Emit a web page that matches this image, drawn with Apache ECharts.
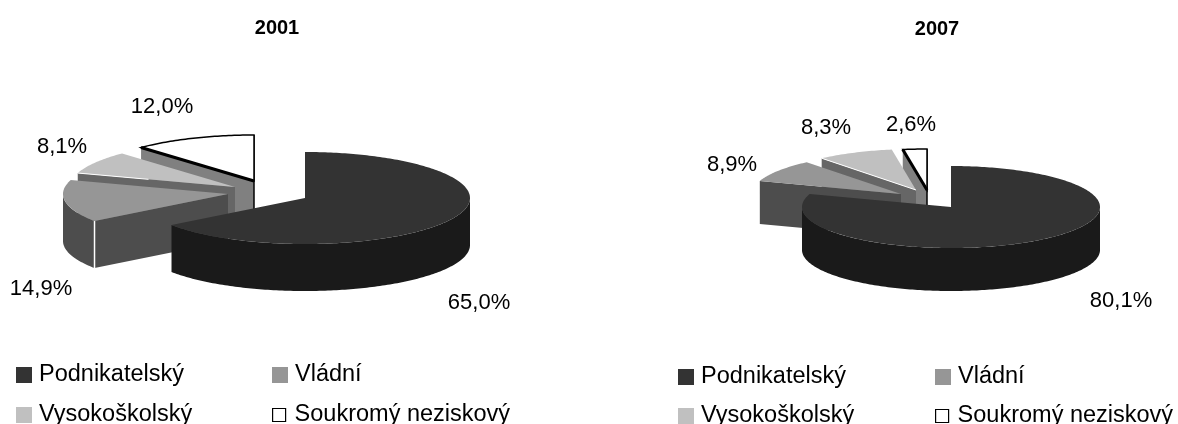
<!DOCTYPE html>
<html>
<head>
<meta charset="utf-8">
<style>
html,body{margin:0;padding:0;background:#fff}
#main{width:1178px;height:424px}
</style>
<script src="https://cdn.jsdelivr.net/npm/echarts@6/dist/echarts.min.js"></script>
</head>
<body>
<div id="main"></div>
<script>
var categories = ['Podnikatelský', 'Vládní', 'Vysokoškolský', 'Soukromý neziskový'];
var values2001 = [65.0, 14.9, 8.1, 12.0];
var values2007 = [80.1, 8.9, 8.3, 2.6];
var years = ['2001', '2007'];

var topColors = ['#333333', '#969696', '#c0c0c0', '#ffffff'];
var sideColors = ['#1a1a1a', '#4d4d4d', '#666666', '#808080'];
var FONT = '"Liberation Sans", Arial, sans-serif';

// geometry of each pie: apex of every slice (exploded), radii, depth, label centres
var pies = [
    {
        values: values2001, rx: 165, ry: 46, depth: 47,
        apex: [[305, 198], [228, 194], [235, 187], [254, 181]],
        labels: [[479, 303], [41, 289], [62, 147], [162, 107]],
        seam: [0, 1, 0, 0],
        highlight: [0, 0, 0.45, 0]
    },
    {
        values: values2007, rx: 149, ry: 41, depth: 43,
        apex: [[951, 207], [901, 194], [916, 190], [927, 190]],
        labels: [[1121, 301], [732, 165], [826, 128], [911, 125]],
        seam: [0, 0, 0, 0],
        highlight: [0, 0, 1, 0]
    }
];

function rimPoint(p, i, deg) {
    var a = deg * Math.PI / 180;
    return [p.apex[i][0] + p.rx * Math.sin(a), p.apex[i][1] - p.ry * Math.cos(a)];
}

function rim(p, i, from, to) {
    var pts = [];
    var n = Math.max(2, Math.ceil(to - from));
    for (var k = 0; k <= n; k++) {
        pts.push(rimPoint(p, i, from + (to - from) * k / n));
    }
    return pts;
}

function down(pts, d) {
    return pts.map(function (q) { return [q[0], q[1] + d]; }).reverse();
}

function sliceSeries(p, i) {
    var total = p.values.reduce(function (s, v) { return s + v; }, 0);
    var before = 0;
    for (var j = 0; j < i; j++) {
        before += p.values[j];
    }
    return {
        type: 'custom',
        name: categories[i],
        coordinateSystem: 'none',
        silent: true,
        itemStyle: { color: topColors[i] },
        data: [[p.values[i], before, total]],
        renderItem: function (params, api) {
            var a0 = api.value(1) / api.value(2) * 360;
            var a1 = (api.value(1) + api.value(0)) / api.value(2) * 360;
            var apex = p.apex[i];
            var children = [];
            var start = rimPoint(p, i, a0);
            var outlined = topColors[i] === '#ffffff';

            // radial face on the start edge (the main slice starts edge-on)
            if (i > 0) {
                var edge = [apex, start];
                children.push({
                    type: 'polygon',
                    shape: { points: edge.concat(down(edge, p.depth)) },
                    style: { fill: sideColors[i] }
                });
            }
            // outer wall, only the part facing the viewer
            var w0 = Math.max(a0, 90), w1 = Math.min(a1, 270);
            if (w1 > w0) {
                var wall = rim(p, i, w0, w1);
                children.push({
                    type: 'polygon',
                    shape: { points: wall.concat(down(wall, p.depth)) },
                    style: { fill: sideColors[i] }
                });
            }
            if (outlined) {
                var end = rimPoint(p, i, a1);
                children.push({
                    type: 'line',
                    shape: { x1: end[0], y1: end[1], x2: end[0], y2: apex[1] + p.depth },
                    style: { stroke: '#000', lineWidth: 1.5 }
                });
            }
            // top face
            children.push({
                type: 'polygon',
                shape: { points: [apex].concat(rim(p, i, a0, a1)) },
                style: {
                    fill: topColors[i],
                    stroke: outlined ? '#000' : null,
                    lineWidth: outlined ? 1.5 : 0
                }
            });
            if (outlined) {
                children.push({
                    type: 'line',
                    shape: { x1: apex[0], y1: apex[1], x2: start[0], y2: start[1] },
                    style: { stroke: '#000', lineWidth: 3 }
                });
            }
            if (p.seam[i]) {
                children.push({
                    type: 'line',
                    shape: { x1: start[0], y1: start[1], x2: start[0], y2: start[1] + p.depth },
                    style: { stroke: '#fff', lineWidth: 1.5 }
                });
            }
            if (p.highlight[i]) {
                var f = p.highlight[i];
                children.push({
                    type: 'line',
                    shape: {
                        x1: start[0], y1: start[1],
                        x2: start[0] + (apex[0] - start[0]) * f,
                        y2: start[1] + (apex[1] - start[1]) * f
                    },
                    style: { stroke: '#fff', lineWidth: 1 }
                });
            }
            return { type: 'group', children: children };
        }
    };
}

function labelSeries(p) {
    return {
        type: 'custom',
        name: 'labels',
        coordinateSystem: 'none',
        silent: true,
        z: 5,
        data: p.values.map(function (v, i) { return [v, i]; }),
        renderItem: function (params, api) {
            var pos = p.labels[api.value(1)];
            return {
                type: 'text',
                style: {
                    text: api.value(0).toFixed(1).replace('.', ',') + '%',
                    x: pos[0], y: pos[1],
                    align: 'center', verticalAlign: 'middle',
                    fill: '#000',
                    font: '22px ' + FONT
                }
            };
        }
    };
}

var series = [];
pies.forEach(function (p) {
    // back to front
    [3, 2, 1, 0].forEach(function (i) { series.push(sliceSeries(p, i)); });
    series.push(labelSeries(p));
});

// one single-item legend per entry, the original has them on a fixed 2x2 layout
var legendSpots = [
    [[16, 363], [272, 363], [16, 403], [272, 403]],
    [[678, 365], [935, 365], [678, 404], [935, 404]]
];
var legends = [];
legendSpots.forEach(function (spots) {
    spots.forEach(function (s, i) {
        var open = topColors[i] === '#ffffff';
        legends.push({
            left: s[0], top: s[1],
            selectedMode: false,
            padding: 0,
            itemWidth: open ? 13 : 16,
            itemHeight: open ? 13 : 16,
            itemStyle: open ? { color: '#fff', borderColor: '#000', borderWidth: 1.2 } : { color: topColors[i], borderWidth: 0 },
            textStyle: { fontFamily: FONT, fontSize: 23.5, color: '#000', padding: [0, 0, 0, open ? 4 : 2] },
            data: [{ name: categories[i], icon: 'rect' }]
        });
    });
});

var myChart = echarts.init(document.getElementById('main'), null, { renderer: 'canvas' });
myChart.setOption({
    animation: false,
    backgroundColor: '#fff',
    title: [
        { text: years[0], left: 277, top: 18, padding: 0, textAlign: 'center', textStyle: { fontFamily: FONT, fontSize: 20, fontWeight: 'bold', color: '#000' } },
        { text: years[1], left: 937, top: 19, padding: 0, textAlign: 'center', textStyle: { fontFamily: FONT, fontSize: 20, fontWeight: 'bold', color: '#000' } }
    ],
    legend: legends,
    series: series
});
</script>
</body>
</html>
